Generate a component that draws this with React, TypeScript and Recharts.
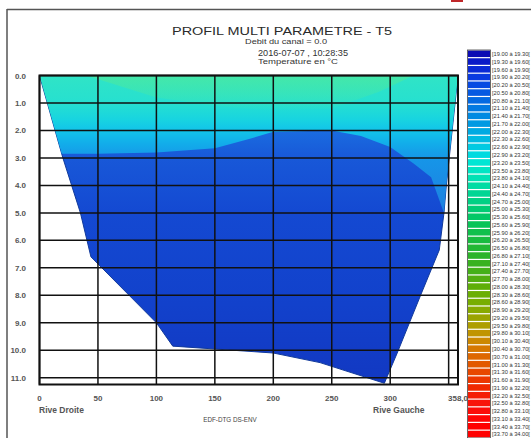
import { ComposedChart, Area, XAxis, YAxis, ReferenceLine, ReferenceArea } from "recharts";

// river bed profile (distance from rive droite in m, depth in m)
const BED_X = [0, 20, 35, 44, 100, 114, 200, 240, 295, 306, 326, 342, 346, 348, 358];
const BED_DEPTH = [0, 3.0, 5.0, 6.6, 9.0, 9.85, 10.1, 10.45, 11.2, 10.1, 8.0, 6.35, 5.0, 4.0, 0];

// lower limit of the warm surface layer (cyan / blue boundary)
const WARM_X = [0, 19, 50, 100, 150, 180, 200, 250, 275, 300, 320, 335, 346, 348, 358];
const WARM_DEPTH = [0, 2.85, 2.85, 2.8, 2.65, 2.3, 2.05, 2.0, 2.2, 2.6, 3.2, 3.7, 5.0, 4.0, 0];

// warmest water, just under the surface
const GREEN_X = [40, 100, 150, 200, 250, 290, 320];
const GREEN_DEPTH = [0, 0.8, 1.1, 1.3, 1.2, 0.6, 0];

const X_TICKS = [0, 50, 100, 150, 200, 250, 300, 350, 358];
const X_LABELS = ["0", "50", "100", "150", "200", "250", "300", "", "358,0"];
const Y_TICKS = [0, 1, 2, 3, 4, 5, 6, 7, 8, 9, 10, 11];
const MAX_DEPTH = 11.25;

// colour classes of the legend (°C)
const CLASS_LOW = [
  "19.00", "19.30", "19.60", "19.90", "20.20", "20.50", "20.80", "21.10", "21.40", "21.70",
  "22.00", "22.30", "22.60", "22.90", "23.20", "23.50", "23.80", "24.10", "24.40", "24.70",
  "25.00", "25.30", "25.60", "25.90", "26.20", "26.50", "26.80", "27.10", "27.40", "27.70",
  "28.00", "28.30", "28.60", "28.90", "29.20", "29.50", "29.80", "30.10", "30.40", "30.70",
  "31.00", "31.30", "31.60", "31.90", "32.20", "32.50", "32.80", "33.10", "33.40", "33.70",
];
const CLASS_HIGH = [
  "19.30", "19.60", "19.90", "20.20", "20.50", "20.80", "21.10", "21.40", "21.70", "22.00",
  "22.30", "22.60", "22.90", "23.20", "23.50", "23.80", "24.10", "24.40", "24.70", "25.00",
  "25.30", "25.60", "25.90", "26.20", "26.50", "26.80", "27.10", "27.40", "27.70", "28.00",
  "28.30", "28.60", "28.90", "29.20", "29.50", "29.80", "30.10", "30.40", "30.70", "31.00",
  "31.30", "31.60", "31.90", "32.20", "32.50", "32.80", "33.10", "33.40", "33.70", "34.00",
];
const CLASS_COLORS = [
  "#0c0cb4", "#0a1ac8", "#0a2ad6", "#0a3ae0", "#084ae2", "#065ae2", "#046ae2", "#027ae2", "#008ae2", "#009ae2",
  "#00aae2", "#00bae2", "#00cae2", "#00dae0", "#00e6d4", "#00e6c4", "#00e2b4", "#00dca4", "#00d694", "#00d084",
  "#00cc74", "#02c866", "#08c458", "#10c04c", "#18bc40", "#22b834", "#2cb42a", "#38b220", "#44b018", "#52ae10",
  "#5eae08", "#6aae04", "#78ae00", "#88aa00", "#9aa400", "#ae9e00", "#c09400", "#cc8800", "#d67800", "#de6800",
  "#e25800", "#e84800", "#ec3800", "#f02a00", "#f41e06", "#f8140a", "#fc0c08", "#ff0404", "#ff0000", "#ff0000",
];

const bedData = BED_X.map((x, i) => ({ x, d: [0, BED_DEPTH[i]] }));
const warmData = WARM_X.map((x, i) => ({ x, d: [0, WARM_DEPTH[i]] }));
const greenData = GREEN_X.map((x, i) => ({ x, d: [0, GREEN_DEPTH[i]] }));

const PLOT_TOP = 75.5;
const PLOT_BOTTOM = 384.6;
const FONT = "'Liberation Sans', Arial, sans-serif";

function off(depth: number) {
  return `${(depth / MAX_DEPTH) * 100}%`;
}

function DepthTick({ x, y, payload }: any) {
  return (
    <text x={x - 13.5} y={y + 3} textAnchor="end" fontSize={8} fontWeight="bold" fill="#555" fontFamily={FONT}>
      {Number(payload.value).toFixed(1)}
    </text>
  );
}

function DistTick({ x, y, payload }: any) {
  const label = X_LABELS[X_TICKS.indexOf(payload.value)] ?? "";
  return (
    <text x={x} y={y + 16.5} textAnchor="middle" fontSize={8} fontWeight="bold" fill="#555" fontFamily={FONT}>
      {label}
    </text>
  );
}

function ColorBar() {
  const top = 50.5;
  const step = 7.76;
  return (
    <g>
      {CLASS_LOW.map((lo, i) => (
        <g key={lo}>
          <rect x={468} y={top + i * step} width={22} height={step - 1.2} fill={CLASS_COLORS[i]} />
          <text x={492} y={top + i * step + 5.6} fontSize={5.7} fill="#333" fontFamily={FONT}>
            {`[${lo} à ${CLASS_HIGH[i]}[`}
          </text>
        </g>
      ))}
      <rect x={467.5} y={top - 0.5} width={23} height={CLASS_LOW.length * step} fill="none" stroke="#444" strokeWidth={0.8} />
    </g>
  );
}

export default function App() {
  return (
    <div style={{ position: "absolute", left: 0, top: 0, width: 531, height: 438, overflow: "hidden", background: "#fff" }}>
      <div style={{ position: "absolute", left: 0, top: 0 }}>
        <ComposedChart width={531} height={438} margin={{ top: PLOT_TOP, right: 73, bottom: 0, left: 0 }}>
          <defs>
            <linearGradient id="deep" gradientUnits="userSpaceOnUse" x1={0} y1={PLOT_TOP} x2={0} y2={PLOT_BOTTOM}>
              <stop offset={off(0)} stopColor="#1a78e2" />
              <stop offset={off(2)} stopColor="#1a6ce0" />
              <stop offset={off(3)} stopColor="#1858d8" />
              <stop offset={off(5)} stopColor="#1449d2" />
              <stop offset={off(8)} stopColor="#1242cc" />
              <stop offset={off(11.25)} stopColor="#1238c2" />
            </linearGradient>
            <linearGradient id="warm" gradientUnits="userSpaceOnUse" x1={0} y1={PLOT_TOP} x2={0} y2={PLOT_BOTTOM}>
              <stop offset={off(0)} stopColor="#30e4c6" />
              <stop offset={off(1)} stopColor="#26e0d0" />
              <stop offset={off(1.6)} stopColor="#18d4e0" />
              <stop offset={off(2)} stopColor="#12c4ea" />
              <stop offset={off(2.5)} stopColor="#12acea" />
              <stop offset={off(3)} stopColor="#1696e8" />
              <stop offset={off(4)} stopColor="#1a8ae4" />
              <stop offset={off(5)} stopColor="#1c80e0" />
            </linearGradient>
            <linearGradient id="green" gradientUnits="userSpaceOnUse" x1={0} y1={PLOT_TOP} x2={0} y2={PLOT_BOTTOM}>
              <stop offset={off(0)} stopColor="#48e8a4" stopOpacity={0.85} />
              <stop offset={off(1.3)} stopColor="#48e8a4" stopOpacity={0} />
            </linearGradient>
          </defs>
          <XAxis
            dataKey="x"
            type="number"
            domain={[0, 358]}
            ticks={X_TICKS}
            interval={0}
            height={438 - PLOT_BOTTOM}
            axisLine={false}
            tickLine={false}
            tickSize={0}
            tickMargin={0}
            tick={<DistTick />}
            allowDataOverflow
          />
          <YAxis
            type="number"
            domain={[0, MAX_DEPTH]}
            reversed
            ticks={Y_TICKS}
            interval={0}
            width={39.5}
            axisLine={false}
            tickLine={false}
            tickSize={0}
            tickMargin={0}
            tick={<DepthTick />}
            allowDataOverflow
          />
          <Area data={bedData} dataKey="d" type="linear" stroke="#123a9a" strokeWidth={1} fill="url(#deep)" fillOpacity={1} isAnimationActive={false} />
          <Area data={warmData} dataKey="d" type="linear" stroke="none" fill="url(#warm)" fillOpacity={1} isAnimationActive={false} />
          <Area data={greenData} dataKey="d" type="linear" stroke="none" fill="url(#green)" fillOpacity={1} isAnimationActive={false} />
          {X_TICKS.map((v) => (
            <ReferenceLine key={`x${v}`} x={v} stroke="#111" strokeWidth={1.5} />
          ))}
          {Y_TICKS.map((v) => (
            <ReferenceLine key={`y${v}`} y={v} stroke="#111" strokeWidth={1.5} />
          ))}
          <ReferenceArea x1={0} x2={358} y1={0} y2={MAX_DEPTH} fill="none" stroke="#111" strokeWidth={2} ifOverflow="visible" />
        </ComposedChart>
      </div>
      <svg width={531} height={438} style={{ position: "absolute", left: 0, top: 0, pointerEvents: "none" }}>
        <line x1={7} y1={9.5} x2={531} y2={9.5} stroke="#555" strokeWidth={1.5} />
        <line x1={7} y1={9} x2={7} y2={438} stroke="#555" strokeWidth={1.5} />
        <rect x={451} y={-4} width={12} height={6} fill="#c0282a" />
        <text x={172} y={35} fontSize={10} fill="#2a2a2a" fontFamily={FONT} textLength={220} lengthAdjust="spacingAndGlyphs">
          PROFIL MULTI PARAMETRE - T5
        </text>
        <text x={245} y={44.2} fontSize={8} fill="#333" fontFamily={FONT} textLength={82} lengthAdjust="spacingAndGlyphs">
          Debit du canal = 0.0
        </text>
        <text x={258} y={55.6} fontSize={9} fill="#333" fontFamily={FONT} textLength={90} lengthAdjust="spacingAndGlyphs">
          2016-07-07 , 10:28:35
        </text>
        <text x={258} y={63.6} fontSize={8} fill="#333" fontFamily={FONT} textLength={80} lengthAdjust="spacingAndGlyphs">
          Temperature en °C
        </text>
        <text x={39} y={413} fontSize={8.5} fontWeight="bold" fill="#555" fontFamily={FONT}>Rive Droite</text>
        <text x={373} y={413} fontSize={8.5} fontWeight="bold" fill="#555" fontFamily={FONT}>Rive Gauche</text>
        <text x={230} y={422} textAnchor="middle" fontSize={6.3} fill="#444" fontFamily={FONT}>EDF-DTG DS-ENV</text>
        <ColorBar />
      </svg>
    </div>
  );
}
